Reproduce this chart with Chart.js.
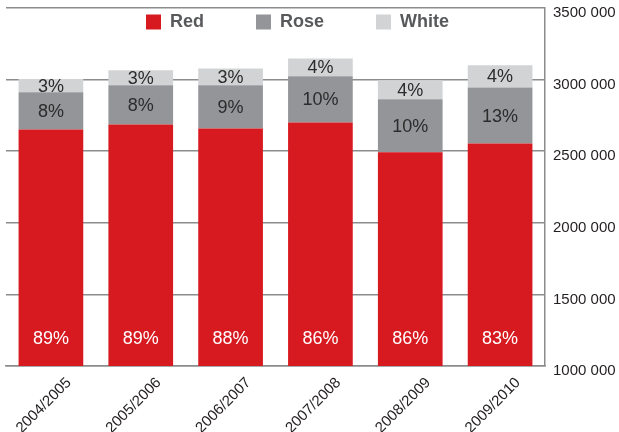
<!DOCTYPE html>
<html>
<head>
<meta charset="utf-8">
<script src="https://cdn.jsdelivr.net/npm/chart.js@4.4.1/dist/chart.umd.min.js"></script>
<style>
    html, body { margin: 0; padding: 0; background: #fff; }
    #wrap { width: 619px; height: 432px; }
</style>
</head>
<body>
<div id="wrap"><canvas id="wineChart"></canvas></div>
<script>
// Seasons and volumes
const seasons = ['2004/2005', '2005/2006', '2006/2007', '2007/2008', '2008/2009', '2009/2010'];
const redVolume = [2652000, 2687000, 2659000, 2701000, 2493000, 2554000];
const roseVolume = [259000, 273000, 301000, 322000, 369000, 390000];
const whiteVolume = [94000, 105000, 117000, 124000, 133000, 156000];

// Printed shares (%)
const redShare = [89, 89, 88, 86, 86, 83];
const roseShare = [8, 8, 9, 10, 10, 13];
const whiteShare = [3, 3, 3, 4, 4, 4];

// Y axis range
const yMin = 1000000;
const yMax = 3500000;
const yStep = 500000;

const fontFamily = '"Liberation Sans", Arial, sans-serif';

function formatVolume(value) {
    const thousands = Math.floor(value / 1000);
    const rest = String(value % 1000).padStart(3, '0');
    return thousands + ' ' + rest;
}

// legend sits inside the plot, so it takes no layout space
const legendInside = {
    id: 'legendInside',
    afterInit(chart) {
        const legend = chart.legend;
        const fit = legend.fit;
        legend.fit = function () {
            fit.call(this);
            this.height = 0;
        };
    },
    afterLayout(chart) {
        const legend = chart.legend;
        const pad = legend.options.labels.padding;
        legend.top = 13 - pad;
        legend.bottom = legend.top + pad + 30;
        legend.height = legend.bottom - legend.top;
        legend.left -= 15;
        legend.right -= 15;
    }
};

// percentage labels in the bars
const shareLabels = {
    id: 'shareLabels',
    afterDatasetsDraw(chart) {
        const ctx = chart.ctx;
        const area = chart.chartArea;
        ctx.save();
        ctx.font = '18px ' + fontFamily;
        ctx.textAlign = 'center';
        ctx.textBaseline = 'middle';
        chart.data.datasets.forEach(function (ds, i) {
            const meta = chart.getDatasetMeta(i);
            meta.data.forEach(function (bar, j) {
                const y = i === 0 ? area.bottom - 27 : (bar.y + bar.base) / 2 + 1;
                ctx.fillStyle = i === 0 ? '#ffffff' : '#2b2b2b';
                ctx.fillText(ds.shares[j] + '%', bar.x, y);
            });
        });
        ctx.restore();
    }
};

const ctx = document.getElementById('wineChart').getContext('2d');
const wineChart = new Chart(ctx, {
    type: 'bar',
    data: {
        labels: seasons,
        datasets: [
            { label: 'Red', data: redVolume, shares: redShare, backgroundColor: '#d71920' },
            { label: 'Rose', data: roseVolume, shares: roseShare, backgroundColor: '#939598' },
            { label: 'White', data: whiteVolume, shares: whiteShare, backgroundColor: '#d1d3d4' }
        ]
    },
    options: {
        responsive: true,
        maintainAspectRatio: false,
        animation: false,
        layout: { padding: { left: 6, top: 8, right: 0, bottom: 0 } },
        datasets: {
            bar: { barPercentage: 0.72, categoryPercentage: 1.0 }
        },
        plugins: {
            tooltip: { enabled: false },
            legend: {
                position: 'top',
                align: 'center',
                labels: {
                    boxWidth: 15,
                    boxHeight: 15,
                    padding: 52,
                    color: '#58595b',
                    font: { family: fontFamily, size: 18, weight: 'bold' }
                }
            }
        },
        scales: {
            x: {
                stacked: true,
                grid: { display: false },
                border: { display: true, color: '#8a8c8e', width: 1.5 },
                ticks: {
                    minRotation: 45,
                    maxRotation: 45,
                    labelOffset: 18,
                    padding: 0,
                    color: '#231f20',
                    font: { family: fontFamily, size: 15 }
                },
                afterFit(scale) { scale.height = 66; }
            },
            y: {
                stacked: true,
                position: 'right',
                min: yMin,
                max: yMax,
                grid: { color: '#8a8c8e', lineWidth: 1.5, drawTicks: false },
                border: { color: '#8a8c8e', width: 1.5 },
                ticks: {
                    stepSize: yStep,
                    padding: 8,
                    labelOffset: 5,
                    color: '#231f20',
                    font: { family: fontFamily, size: 15 },
                    callback: function (value) { return formatVolume(value); }
                },
                afterFit(scale) {
                    scale.width = 74;
                    scale.paddingTop = 0;
                    scale.paddingBottom = 0;
                }
            }
        }
    },
    plugins: [legendInside, shareLabels]
});
</script>
</body>
</html>
